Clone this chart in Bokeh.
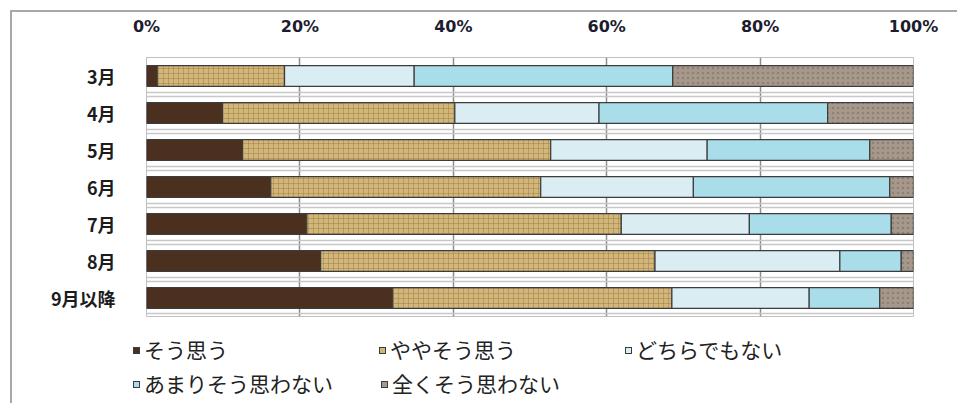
from bokeh.plotting import figure
from bokeh.layouts import column
from bokeh.models import ColumnDataSource, Range1d, FixedTicker, Div
from bokeh.embed import file_html
from bokeh.resources import INLINE

# ---- data ----
categories = ["3月", "4月", "5月", "6月", "7月", "8月", "9月以降"]
series_names = ["そう思う", "ややそう思う", "どちらでもない", "あまりそう思わない", "全くそう思わない"]
sou_omou = [1.4, 9.9, 12.5, 16.2, 20.9, 22.7, 32.1]
yaya_sou_omou = [16.6, 30.3, 40.2, 35.2, 41.0, 43.6, 36.4]
dochira_demo_nai = [16.9, 18.8, 20.4, 19.9, 16.7, 24.1, 17.9]
amari_omowanai = [33.7, 29.8, 21.2, 25.6, 18.5, 8.0, 9.2]
mattaku_omowanai = [31.4, 11.2, 5.7, 3.1, 2.9, 1.6, 4.4]
x_ticks = [0, 20, 40, 60, 80, 100]
x_tick_labels = ["0%", "20%", "40%", "60%", "80%", "100%"]

colors = ["#4b2f1f", "#d2b67a", "#daedf3", "#a9dde9", "#a6988b"]
hatches = [" ", "+", " ", " ", "dot"]
hatch_colors = ["#3a2416", "#9a7a42", "#daedf3", "#c8eef5", "#6f6359"]

y_pos = [i + 0.5 for i in range(len(categories))]
keys = ["s0", "s1", "s2", "s3", "s4"]
source = ColumnDataSource(dict(y=y_pos, s0=sou_omou, s1=yaya_sou_omou, s2=dochira_demo_nai,
                               s3=amari_omowanai, s4=mattaku_omowanai))

LINE = "linear-gradient(#a8a8a8,#a8a8a8)"
top_css = f"{LINE} 10px 10px / 2px 100% no-repeat, {LINE} 10px 10px / 100% 2px no-repeat, white"
bottom_css = f"{LINE} 10px 0px / 2px 100% no-repeat, white"

TOP_H = 325
p = figure(width=957, height=TOP_H, output_backend="svg", toolbar_location=None,
           x_range=Range1d(0, 100), y_range=Range1d(len(categories), 0),
           x_axis_location="above", min_border_left=146, min_border_right=44,
           min_border_top=57, min_border_bottom=9,
           styles={"background": top_css})
p.background_fill_color = "white"
p.border_fill_color = None
p.outline_line_color = "#c0c0c0"

renderers = p.hbar_stack(keys, y="y", height=0.56, source=source,
                         fill_color=colors, line_color="#3c3c3c", line_width=1.2,
                         hatch_pattern=hatches, hatch_color=hatch_colors,
                         hatch_alpha=0.45, hatch_scale=5, hatch_weight=1)

# axes
p.xaxis.ticker = FixedTicker(ticks=x_ticks)
p.xaxis.major_label_overrides = {t: l for t, l in zip(x_ticks, x_tick_labels)}
p.xaxis.major_label_text_font = "DejaVu Sans"
p.xaxis.major_label_text_font_style = "bold"
p.xaxis.major_label_text_font_size = "16px"
p.xaxis.major_label_text_color = "#1c1c30"
p.xaxis.major_label_standoff = 16
p.yaxis.ticker = FixedTicker(ticks=y_pos)
p.yaxis.major_label_overrides = {y: c for y, c in zip(y_pos, categories)}
p.yaxis.major_label_text_font = "Noto Sans CJK JP"
p.yaxis.major_label_text_font_style = "bold"
p.yaxis.major_label_text_font_size = "18px"
p.yaxis.major_label_text_color = "#1c1c1c"
p.yaxis.major_label_standoff = 25
for ax in (p.xaxis, p.yaxis):
    ax.axis_line_color = None
    ax.major_tick_line_color = None
    ax.minor_tick_line_color = None

# grids
p.xgrid.ticker = FixedTicker(ticks=[20, 40, 60, 80])
p.xgrid.grid_line_color = "#8e8e8e"
p.xgrid.grid_line_width = 1.5
bounds = []
for k in range(1, len(categories)):
    bounds += [k - 0.05, k + 0.05]
bounds += [len(categories) - 0.08]
p.ygrid.ticker = FixedTicker(ticks=bounds)
p.ygrid.grid_line_color = "#c8c8c8"
p.ygrid.grid_line_width = 1.5

# ---- legend (HTML, pixel placement) ----
LEG_H = 403 - TOP_H
leg_x = [133, 379, 625, 133, 381]
leg_y = [24, 24, 24, 58, 58]
parts = []
for name, c, x, y in zip(series_names, colors, leg_x, leg_y):
    parts.append(
        f'<span style="position:absolute;left:{x}px;top:{y - 2}px;width:7px;height:7px;'
        f'background:{c};border:1px solid #3c3c3c;"></span>'
        f'<span style="position:absolute;left:{x + 11}px;top:{y - 15}px;line-height:30px;'
        f'font-family:\'Noto Sans CJK JP\';font-size:21px;color:#222;white-space:nowrap;">{name}</span>')
html = (f'<div style="position:relative;width:957px;height:{LEG_H}px;margin:0;padding:0;">'
        + "".join(parts) + "</div>")
lg = Div(text=html, width=957, height=LEG_H, margin=(0, 0, 0, 0),
         styles={"background": bottom_css, "padding": "0", "margin": "0"})

open("out.html", "w").write(file_html(column(p, lg, spacing=0), INLINE))
